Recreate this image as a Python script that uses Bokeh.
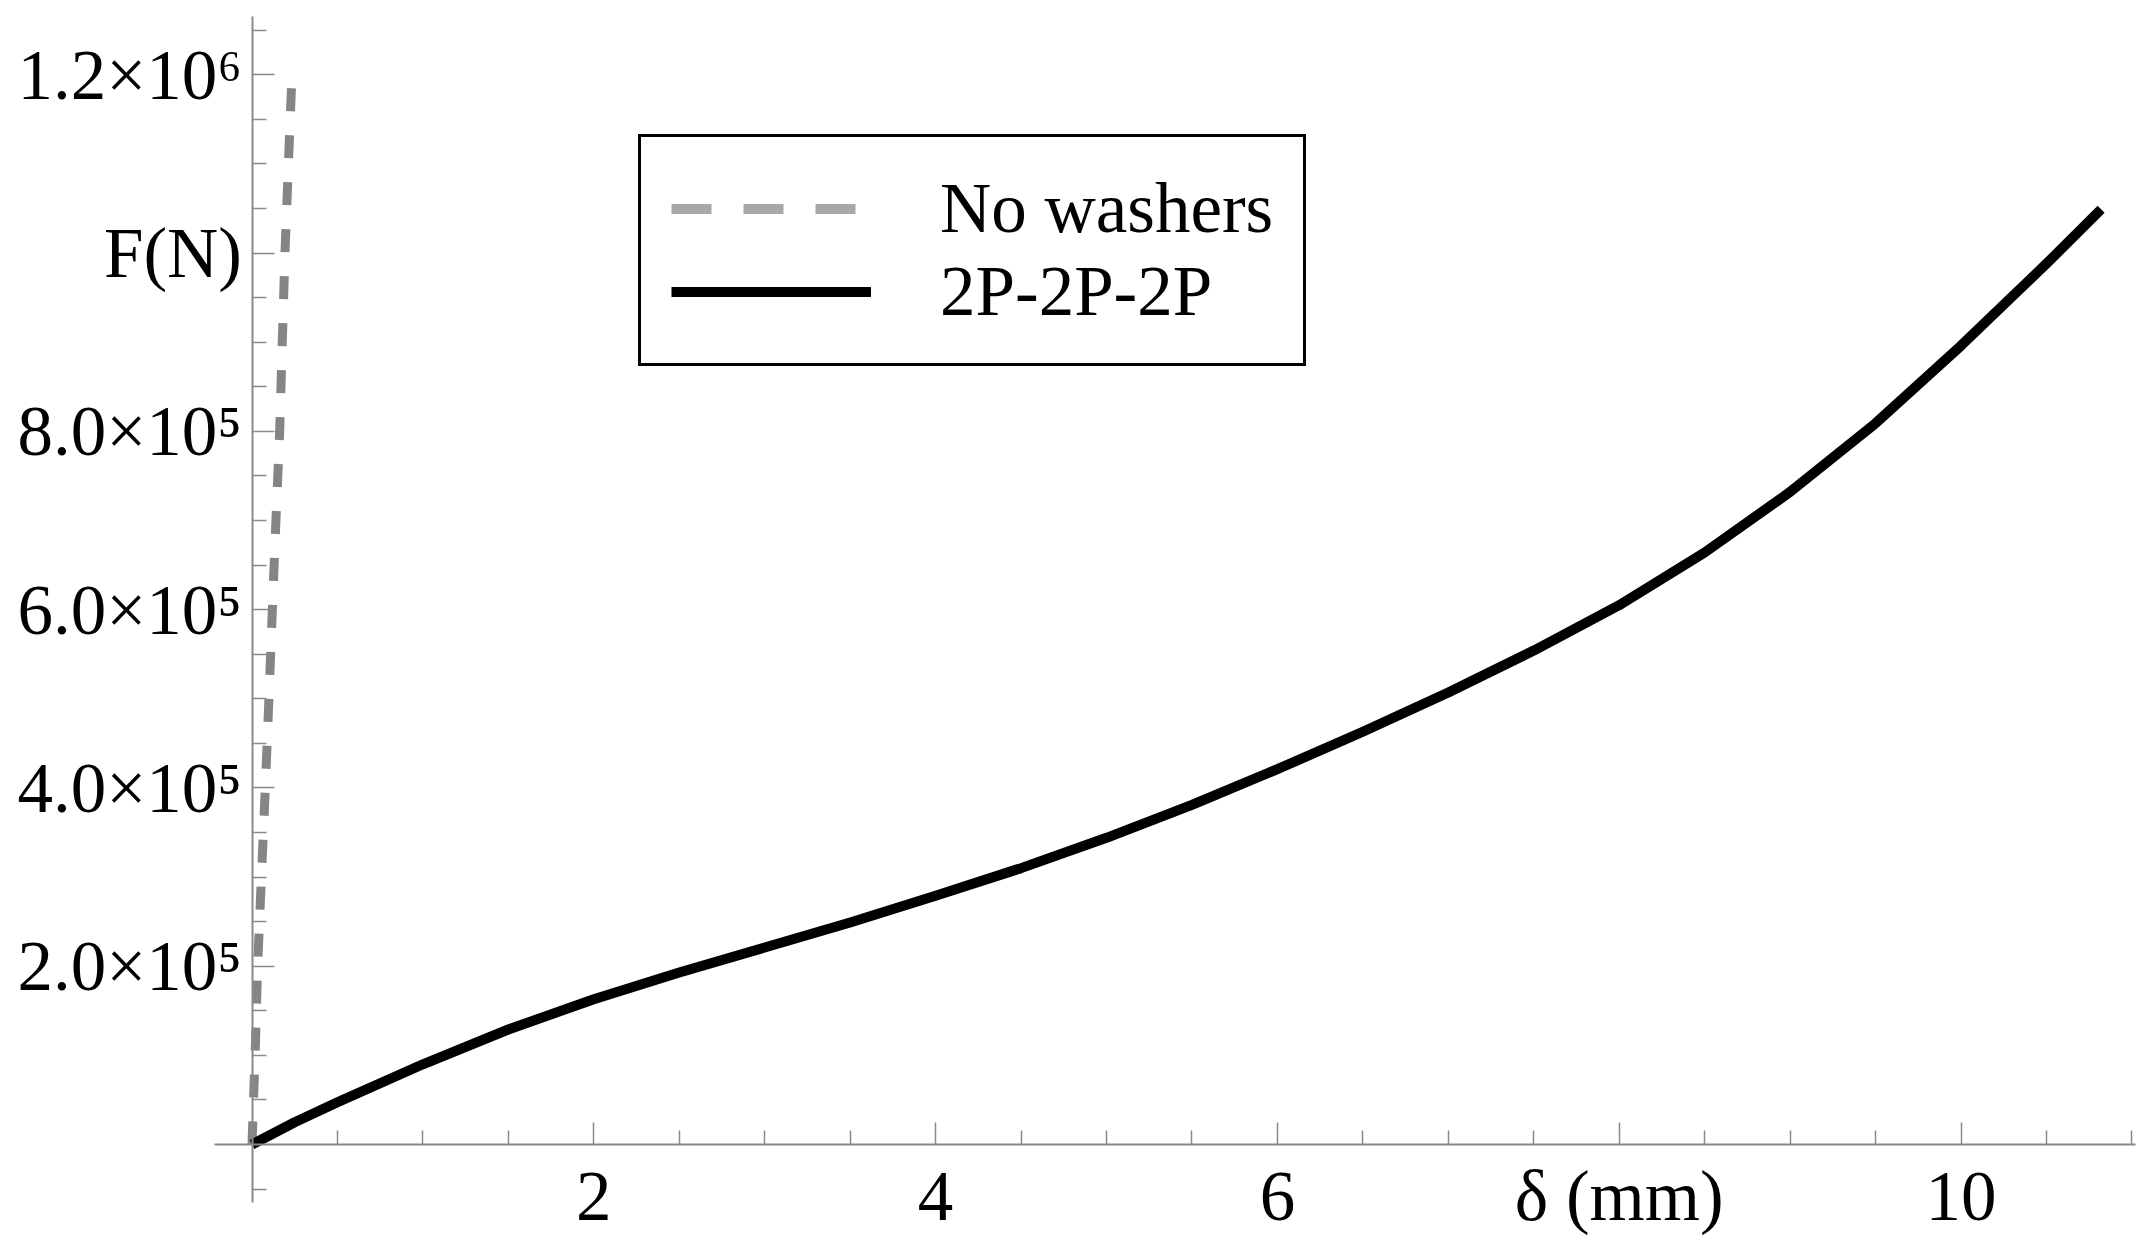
from bokeh.plotting import figure
from bokeh.models import LinearAxis, FixedTicker, Range1d, Legend, LegendItem, ColumnDataSource
from bokeh.embed import file_html
from bokeh.resources import INLINE

# ---- data ----
no_washers_delta = [0, 0.018, 0.033, 0.055, 0.078, 0.099, 0.119, 0.140, 0.162, 0.177, 0.193, 0.213, 0.234]
no_washers_force = [0, 1e5, 2e5, 3e5, 4e5, 5e5, 6e5, 7e5, 8e5, 9e5, 1.0e6, 1.1e6, 1.2e6]

washers_delta = [0, 0.25, 0.5, 1, 1.5, 2, 2.5, 3, 3.5, 4, 4.5, 5, 5.5, 6, 6.5, 7,
                 7.5, 8, 8.5, 9, 9.5, 10, 10.5, 10.82]
washers_force = [0, 2.5e4, 4.75e4, 9.0e4, 1.29e5, 1.63e5, 1.93e5, 2.21e5, 2.49e5, 2.79e5,
                 3.10e5, 3.44e5, 3.81e5, 4.21e5, 4.63e5, 5.07e5, 5.54e5, 6.05e5, 6.64e5,
                 7.32e5, 8.09e5, 8.96e5, 9.88e5, 1.049e6]

series_names = ["No washers", "2P-2P-2P"]

x_major = [2, 4, 6, 8, 10]
x_labels = ["2", "4", "6", "δ (mm)", "10"]
x_minor = [0.5, 1, 1.5, 2.5, 3, 3.5, 4.5, 5, 5.5, 6.5, 7, 7.5, 8.5, 9, 9.5, 10.5, 11]

y_major = [2e5, 4e5, 6e5, 8e5, 1e6, 1.2e6]
y_labels = ["2.0×10⁵", "4.0×10⁵", "6.0×10⁵", "8.0×10⁵", "F(N)", "1.2×10⁶"]
y_minor = [-5e4, 5e4, 1e5, 1.5e5, 2.5e5, 3e5, 3.5e5, 4.5e5, 5e5, 5.5e5, 6.5e5, 7e5, 7.5e5,
           8.5e5, 9e5, 9.5e5, 1.05e6, 1.1e6, 1.15e6, 1.25e6]

# ---- layout ----
W, H = 2139, 1239
X0_PX, PX_PER_X = 251.5, 170.9          # position of x=0 inside the canvas
Y0_PX, PX_PER_Y = 1144.0, 178.3 / 2e5    # position of F=0 inside the canvas (from top)

x_start = -X0_PX / PX_PER_X
x_end = (W - X0_PX) / PX_PER_X
y_end = Y0_PX / PX_PER_Y
y_start = -(H - Y0_PX) / PX_PER_Y

p = figure(width=W, height=H, output_backend="svg", toolbar_location=None,
           x_range=Range1d(x_start, x_end), y_range=Range1d(y_start, y_end),
           x_axis_location=None, y_axis_location=None, min_border=0)
p.title.visible = False
p.outline_line_color = None
p.background_fill_color = "white"
p.border_fill_color = "white"
p.xgrid.visible = False
p.ygrid.visible = False

FONT = "Liberation Serif"
AX_COLOR = "#8a8a8a"

xaxis = LinearAxis(fixed_location=0, bounds=(-0.217, 11.02))
xaxis.ticker = FixedTicker(ticks=x_major, minor_ticks=x_minor)
xaxis.major_label_overrides = {float(v): s for v, s in zip(x_major, x_labels)}
yaxis = LinearAxis(fixed_location=0, bounds=(-6.56e4, 1.265e6))
yaxis.ticker = FixedTicker(ticks=y_major, minor_ticks=y_minor)
yaxis.major_label_overrides = {float(v): s for v, s in zip(y_major, y_labels)}

for ax in (xaxis, yaxis):
    ax.axis_line_color = AX_COLOR
    ax.axis_line_width = 2
    ax.major_tick_line_color = AX_COLOR
    ax.minor_tick_line_color = AX_COLOR
    ax.major_tick_line_width = 1.5
    ax.minor_tick_line_width = 1.5
    ax.major_tick_in = 22
    ax.major_tick_out = 0
    ax.minor_tick_in = 14
    ax.minor_tick_out = 0
    ax.major_label_text_font = FONT
    ax.major_label_text_font_size = "71px"
    ax.major_label_text_color = "black"
xaxis.major_label_standoff = 12
yaxis.major_label_standoff = 10

p.add_layout(xaxis, "below")
p.add_layout(yaxis, "left")

src_nw = ColumnDataSource(dict(x=no_washers_delta, y=no_washers_force))
src_w = ColumnDataSource(dict(x=washers_delta, y=washers_force))

p.line("x", "y", source=src_nw, line_color="#858585", line_width=9,
       line_dash="23 24", line_cap="butt")
r_w = p.line("x", "y", source=src_w, line_color="black", line_width=10,
             line_cap="butt", line_join="round")

# key sample for the dashed series (lighter, longer dashes as in the reference key);
# its two points lie outside the visible range, so only the legend shows it
r_key = p.line("x", "y", source=ColumnDataSource(dict(x=[-50, -49], y=[0, 0])),
               line_color="#a8a8a8", line_width=10, line_dash="40 32", line_cap="butt")

legend = Legend(items=[LegendItem(label=series_names[0], renderers=[r_key]),
                       LegendItem(label=series_names[1], renderers=[r_w])],
                location=(638, 873))
legend.label_text_font = FONT
legend.label_text_font_size = "71px"
legend.label_text_color = "black"
legend.glyph_width = 200
legend.glyph_height = 83
legend.label_standoff = 69
legend.padding = 30
legend.spacing = 0
legend.margin = 0
legend.border_line_color = "black"
legend.border_line_alpha = 1.0
legend.border_line_width = 3
legend.background_fill_color = "white"
legend.background_fill_alpha = 1.0
p.add_layout(legend, "center")

open("out.html", "w").write(file_html(p, INLINE))
